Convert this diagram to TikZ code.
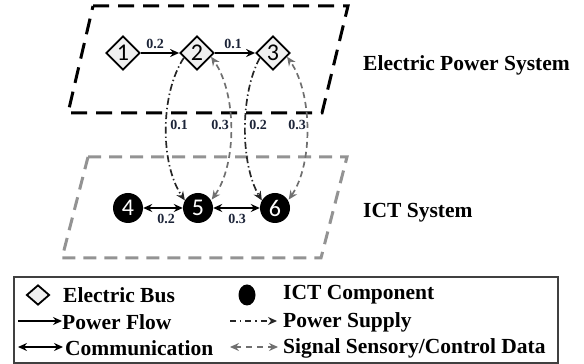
\documentclass[tikz,border=0pt]{standalone}
\usepackage{fontspec}
\setmainfont{Liberation Serif}[BoldFont={Liberation Serif Bold}]
\newfontfamily\numfont{Carlito}
\usetikzlibrary{arrows.meta,shapes.geometric}
\definecolor{lblnavy}{HTML}{1C2438}
\definecolor{sigray}{HTML}{707070}
\begin{document}
\begin{tikzpicture}[x=1pt,y=1pt,
  bus/.style={diamond,draw=black,line width=1.8pt,fill=gray!12,minimum size=34pt,inner sep=0pt,font=\numfont\fontsize{24}{24}\selectfont},
  ict/.style={circle,fill=black,minimum size=30pt,inner sep=0pt,text=white,font=\numfont\fontsize{24}{24}\selectfont},
  wlabel/.style={font=\bfseries\fontsize{14}{14}\selectfont,text=lblnavy,inner sep=0pt},
  tip/.tip={Stealth[length=9pt,width=8pt,inset=3pt]},
  pflow/.style={line width=1.8pt,-tip},
  comm/.style={line width=1.8pt,tip-tip},
  psupply/.style={line width=1.7pt,draw=black!85,dash pattern=on 7pt off 3pt on 1.4pt off 3pt,-tip},
  signal/.style={line width=1.7pt,draw=sigray,dash pattern=on 6pt off 4pt,tip-tip},
  systitle/.style={font=\bfseries\fontsize{21.5}{24}\selectfont,anchor=west,inner sep=0pt},
  legtext/.style={font=\bfseries\fontsize{21.5}{24}\selectfont,anchor=west,inner sep=0pt},
  epsframe/.style={line width=3pt,dash pattern=on 16pt off 9pt,draw=black},
  ictframe/.style={line width=3pt,dash pattern=on 13pt off 8pt,draw=gray!85}
]
\useasboundingbox (0,0) rectangle (584,364);

% system frames
\draw[epsframe] (93,358) -- (348,358) -- (322,251) -- (68,251) -- cycle;
\draw[ictframe] (88,207) -- (347,207) -- (321,106) -- (62,106) -- cycle;

% nodes
\node[bus] (d1) at (123,311) {1};
\node[bus] (d2) at (197,311) {2};
\node[bus] (d3) at (273,311) {3};
\node[ict] (c4) at (128,156) {4};
\node[ict] (c5) at (198,156) {5};
\node[ict] (c6) at (275,156) {6};

% power flow
\draw[pflow] (d1.east) -- (d2.west);
\draw[pflow] (d2.east) -- (d3.west);
\node[wlabel] (l12) at (155,320) {0.2};
\node[wlabel] (l23) at (233,320) {0.1};

% communication
\draw[comm] (c4.east) -- (c5.west);
\draw[comm] (c5.east) -- (c6.west);
\node[wlabel] (l45) at (166,145) {0.2};
\node[wlabel] (l56) at (237,145) {0.3};

% power supply and signals
\draw[psupply] (d2.200) .. controls (160,270) and (160,200) .. (c5.150);
\draw[signal,shorten <=1pt] (c5.30) .. controls (237,200) and (237,270) .. (d2.-15);
\draw[psupply] (d3.200) .. controls (240,270) and (240,200) .. (c6.150);
\draw[signal,shorten <=1pt] (c6.30) .. controls (313,200) and (313,270) .. (d3.-15);
\node[wlabel] (v1) at (179,239) {0.1};
\node[wlabel] (v2) at (220,239) {0.3};
\node[wlabel] (v3) at (258,239) {0.2};
\node[wlabel] (v4) at (297,239) {0.3};

% system titles
\node[systitle] (eps) at (363,299) {Electric Power System};
\node[systitle] (ictt) at (363,151) {ICT System};

% legend
\draw[line width=1.5pt,draw=black!75] (14,87) rectangle (558,1);
\node[diamond,draw=black,line width=1.8pt,fill=gray!12,minimum width=23pt,minimum height=20pt,inner sep=0pt] (lgbus) at (38,69) {};
\node[legtext] (lgbust) at (63,69) {Electric Bus};
\node[ellipse,fill=black,minimum width=17pt,minimum height=21pt,inner sep=0pt] (lgict) at (247,69) {};
\node[legtext] (lgictt) at (283,69) {ICT Component};
\coordinate (pf1) at (18,43);
\coordinate (pf2) at (62,43);
\draw[pflow] (pf1) -- (pf2);
\node[legtext] (lgpf) at (62,42) {Power Flow};
\coordinate (ps1) at (230,43);
\coordinate (ps2) at (277,43);
\draw[psupply,dash pattern=on 6pt off 4pt on 1.4pt off 4pt] (ps1) -- (ps2);
\node[legtext] (lgps) at (283,42) {Power Supply};
\coordinate (cm1) at (18,17);
\coordinate (cm2) at (63,17);
\draw[comm] (cm1) -- (cm2);
\node[legtext] (lgcm) at (65,16) {Communication};
\coordinate (sg1) at (230,17);
\coordinate (sg2) at (278,17);
\draw[signal,dash pattern=on 6pt off 5pt] (sg1) -- (sg2);
\node[legtext] (lgsg) at (283,16) {Signal Sensory/Control Data};
\end{tikzpicture}
\end{document}
